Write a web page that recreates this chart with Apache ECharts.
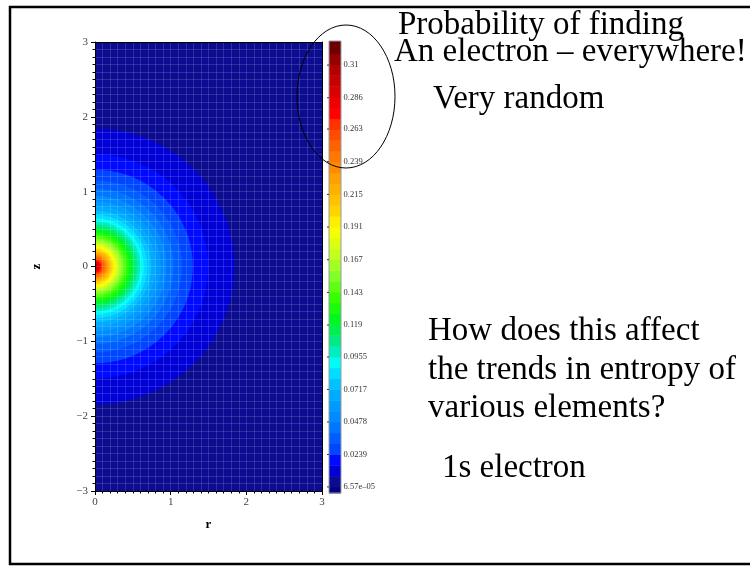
<!DOCTYPE html>
<html>
<head>
<meta charset="utf-8">
<script src="https://cdn.jsdelivr.net/npm/echarts@6/dist/echarts.min.js"></script>
<style>html,body{margin:0;padding:0;background:#fff;}#c{width:750px;height:566px;}</style>
</head>
<body>
<div id="c"></div>
<script>
// ---- data ----
// contour level values (Tecplot flood levels), 3 levels per legend label
const levels = [0.0000657, 0.008024, 0.015982, 0.02394, 0.031898, 0.039856, 0.047814, 0.055772, 0.06373, 0.071688,
  0.079646, 0.087604, 0.095562, 0.10352, 0.11148, 0.11944, 0.12739, 0.13535, 0.14331, 0.15127,
  0.15923, 0.16718, 0.17514, 0.1831, 0.19106, 0.19902, 0.20697, 0.21493, 0.22289, 0.23085,
  0.23881, 0.24676, 0.25472, 0.26268, 0.27064, 0.2786, 0.28655, 0.29451, 0.30247, 0.31043,
  0.31839, 0.32634];
// radius (in r,z units) of each contour boundary, level 0 .. 39
const contourRadii = [4.243, 1.840, 1.495, 1.293, 1.150, 1.038, 0.947, 0.870, 0.804, 0.745,
  0.692, 0.645, 0.601, 0.561, 0.524, 0.490, 0.457, 0.427, 0.398, 0.371,
  0.346, 0.321, 0.298, 0.276, 0.255, 0.234, 0.215, 0.196, 0.178, 0.160,
  0.143, 0.127, 0.111, 0.0955, 0.0806, 0.0661, 0.0520, 0.0383, 0.0250, 0.0120];
const legendValues = [0.0000657, 0.0239, 0.0478, 0.0717, 0.0955, 0.119, 0.143, 0.167, 0.191, 0.215, 0.239, 0.263, 0.286, 0.31];
const legendLabels = ['6.57e\u201305', '0.0239', '0.0478', '0.0717', '0.0955', '0.119', '0.143', '0.167', '0.191', '0.215', '0.239', '0.263', '0.286', '0.31'];
const zTickLabels = ['\u22123', '\u22122', '\u22121', '0', '1', '2', '3'];
const rTickLabels = ['0', '1', '2', '3'];
const legendMin = -0.0044, legendMax = 0.3277;

// ---- colour map (style) ----
const stops = [
  [-0.004, [0, 0, 120]], [0.004, [12, 12, 145]], [0.012, [0, 0, 215]], [0.020, [0, 10, 255]],
  [0.028, [0, 70, 255]], [0.05, [0, 135, 255]], [0.07, [0, 175, 255]], [0.082, [0, 215, 255]],
  [0.09, [0, 255, 255]], [0.10, [0, 235, 190]], [0.11, [0, 235, 110]], [0.125, [0, 250, 20]],
  [0.14, [60, 255, 0]], [0.155, [130, 255, 40]], [0.17, [190, 255, 30]], [0.19, [255, 255, 0]],
  [0.205, [255, 205, 0]], [0.225, [255, 165, 0]], [0.245, [255, 115, 0]], [0.265, [255, 60, 0]],
  [0.275, [255, 0, 0]], [0.29, [220, 0, 0]], [0.31, [170, 0, 0]], [0.325, [100, 0, 0]]
];
function colorAt(v) {
  if (v <= stops[0][0]) return 'rgb(' + stops[0][1].join(',') + ')';
  for (let i = 0; i < stops.length - 1; i++) {
    const a = stops[i], b = stops[i + 1];
    if (v <= b[0]) {
      const t = (v - a[0]) / (b[0] - a[0]);
      const c = a[1].map((x, j) => Math.round(x + (b[1][j] - x) * t));
      return 'rgb(' + c.join(',') + ')';
    }
  }
  return 'rgb(' + stops[stops.length - 1][1].join(',') + ')';
}

// plot discs: [radius, level index]
const discData = contourRadii.map((R, k) => [R, k]);
// legend bands: [lo, hi]
const bandData = [[legendMin, levels[0]]];
for (let k = 0; k < levels.length - 1; k++) bandData.push([levels[k], levels[k + 1]]);
bandData.push([levels[levels.length - 1], legendMax]);

const serif = '"Liberation Serif", "Times New Roman", serif';
const mesh = 'rgba(255,255,255,0.14)';

const chart = echarts.init(document.getElementById('c'), null, { renderer: 'canvas' });

function slideText(txt, x, y) {
  return { type: 'text', x: x, y: y, z: 100,
    style: { text: txt, fontSize: 33, fontFamily: serif, fill: '#000', align: 'left', verticalAlign: 'middle' } };
}

chart.setOption({
  animation: false,
  backgroundColor: '#fff',
  grid: [
    { left: 95, top: 42, width: 227, height: 449, show: true, backgroundColor: colorAt((levels[0] + levels[1]) / 2), borderWidth: 0 },
    { left: 329, top: 41, width: 12, height: 452, show: false }
  ],
  xAxis: [
    { gridIndex: 0, type: 'value', min: 0, max: 3, interval: 1, z: 5,
      name: 'r', nameLocation: 'middle', nameGap: 27,
      nameTextStyle: { fontFamily: serif, fontWeight: 'bold', fontSize: 13, color: '#000' },
      axisLine: { show: true, onZero: false, lineStyle: { color: '#000', width: 1 } },
      axisTick: { show: true, length: 4, lineStyle: { color: '#000' } },
      minorTick: { show: true, splitNumber: 10, length: 2.5, lineStyle: { color: '#000' } },
      splitLine: { show: true, lineStyle: { color: mesh, width: 1 } },
      minorSplitLine: { show: true, lineStyle: { color: mesh, width: 1 } },
      axisLabel: { margin: 6, fontFamily: serif, fontSize: 11, color: '#444',
        formatter: v => rTickLabels[Math.round(v)] } },
    { gridIndex: 0, type: 'value', min: 0, max: 3, position: 'top', z: 6,
      axisLine: { show: true, onZero: false, lineStyle: { color: '#000', width: 1 } },
      axisTick: { show: false }, axisLabel: { show: false }, splitLine: { show: false } },
    { gridIndex: 1, type: 'value', min: 0, max: 1, show: false }
  ],
  yAxis: [
    { gridIndex: 0, type: 'value', min: -3, max: 3, interval: 1, z: 5,
      name: 'z', nameLocation: 'middle', nameGap: 52, nameRotate: 90,
      nameTextStyle: { fontFamily: serif, fontWeight: 'bold', fontSize: 13, color: '#000' },
      axisLine: { show: true, onZero: false, lineStyle: { color: '#000', width: 1 } },
      axisTick: { show: true, length: 4, lineStyle: { color: '#000' } },
      minorTick: { show: true, splitNumber: 10, length: 2.5, lineStyle: { color: '#000' } },
      splitLine: { show: true, lineStyle: { color: mesh, width: 1 } },
      minorSplitLine: { show: true, lineStyle: { color: mesh, width: 1 } },
      axisLabel: { margin: 7, fontFamily: serif, fontSize: 11, color: '#444',
        formatter: v => zTickLabels[Math.round(v) + 3] } },
    { gridIndex: 0, type: 'value', min: -3, max: 3, position: 'right', z: 6,
      axisLine: { show: true, onZero: false, lineStyle: { color: '#000', width: 1 } },
      axisTick: { show: false }, axisLabel: { show: false }, splitLine: { show: false } },
    { gridIndex: 1, type: 'value', min: legendMin, max: legendMax, show: false }
  ],
  series: [
    { type: 'custom', name: 'density', xAxisIndex: 0, yAxisIndex: 0, clip: true, z: 2,
      data: discData,
      renderItem: function (params, api) {
        const R = api.value(0), k = api.value(1);
        const c = api.coord([0, 0]);
        const s = api.size([R, R]);
        return { type: 'ellipse', shape: { cx: c[0], cy: c[1], rx: s[0], ry: s[1] },
          style: { fill: colorAt((levels[k] + levels[k + 1]) / 2), stroke: null } };
      } },
    { type: 'custom', name: 'legendBands', xAxisIndex: 2, yAxisIndex: 2, z: 2,
      data: bandData,
      renderItem: function (params, api) {
        const lo = api.value(0), hi = api.value(1);
        const p0 = api.coord([0, lo]), p1 = api.coord([1, hi]);
        return { type: 'rect', shape: { x: p0[0], y: p1[1], width: p1[0] - p0[0], height: p0[1] - p1[1] + 0.5 },
          style: { fill: colorAt((lo + hi) / 2) } };
      } },
    { type: 'custom', name: 'legendFrame', xAxisIndex: 2, yAxisIndex: 2, z: 3,
      data: [[legendMin, legendMax]],
      renderItem: function (params, api) {
        const p0 = api.coord([0, api.value(0)]), p1 = api.coord([1, api.value(1)]);
        return { type: 'rect', shape: { x: p0[0], y: p1[1], width: p1[0] - p0[0], height: p0[1] - p1[1] },
          style: { fill: null, stroke: '#9a9aa8', lineWidth: 1 } };
      } },
    { type: 'custom', name: 'legendLabels', xAxisIndex: 2, yAxisIndex: 2, z: 4, clip: false,
      data: legendValues.map((v, i) => [v, i]),
      renderItem: function (params, api) {
        const v = api.value(0), i = api.value(1);
        const pL = api.coord([0, v]), pR = api.coord([1, v]);
        return { type: 'group', children: [
          { type: 'line', shape: { x1: pL[0] - 2, y1: pL[1], x2: pL[0], y2: pL[1] }, style: { stroke: '#333', lineWidth: 1 } },
          { type: 'text', x: pR[0] + 2.5, y: pL[1],
            style: { text: legendLabels[i], fontFamily: serif, fontSize: 8.5, fill: '#333', align: 'left', verticalAlign: 'middle' } }
        ] };
      } }
  ],
  graphic: [
    { type: 'rect', z: 100, shape: { x: 10, y: 7, width: 760, height: 557 }, style: { fill: null, stroke: '#000', lineWidth: 2.5 } },
    { type: 'ellipse', z: 101, shape: { cx: 346, cy: 96.5, rx: 49, ry: 71.5 }, style: { fill: null, stroke: '#000', lineWidth: 1 } },
    slideText('Probability of finding', 398, 25),
    slideText('An electron \u2013 everywhere!', 394, 52),
    slideText('Very random', 433, 99),
    slideText('How does this affect', 428, 331),
    slideText('the trends in entropy of', 428, 370),
    slideText('various elements?', 428, 408),
    slideText('1s electron', 442, 468)
  ]
});
</script>
</body>
</html>
